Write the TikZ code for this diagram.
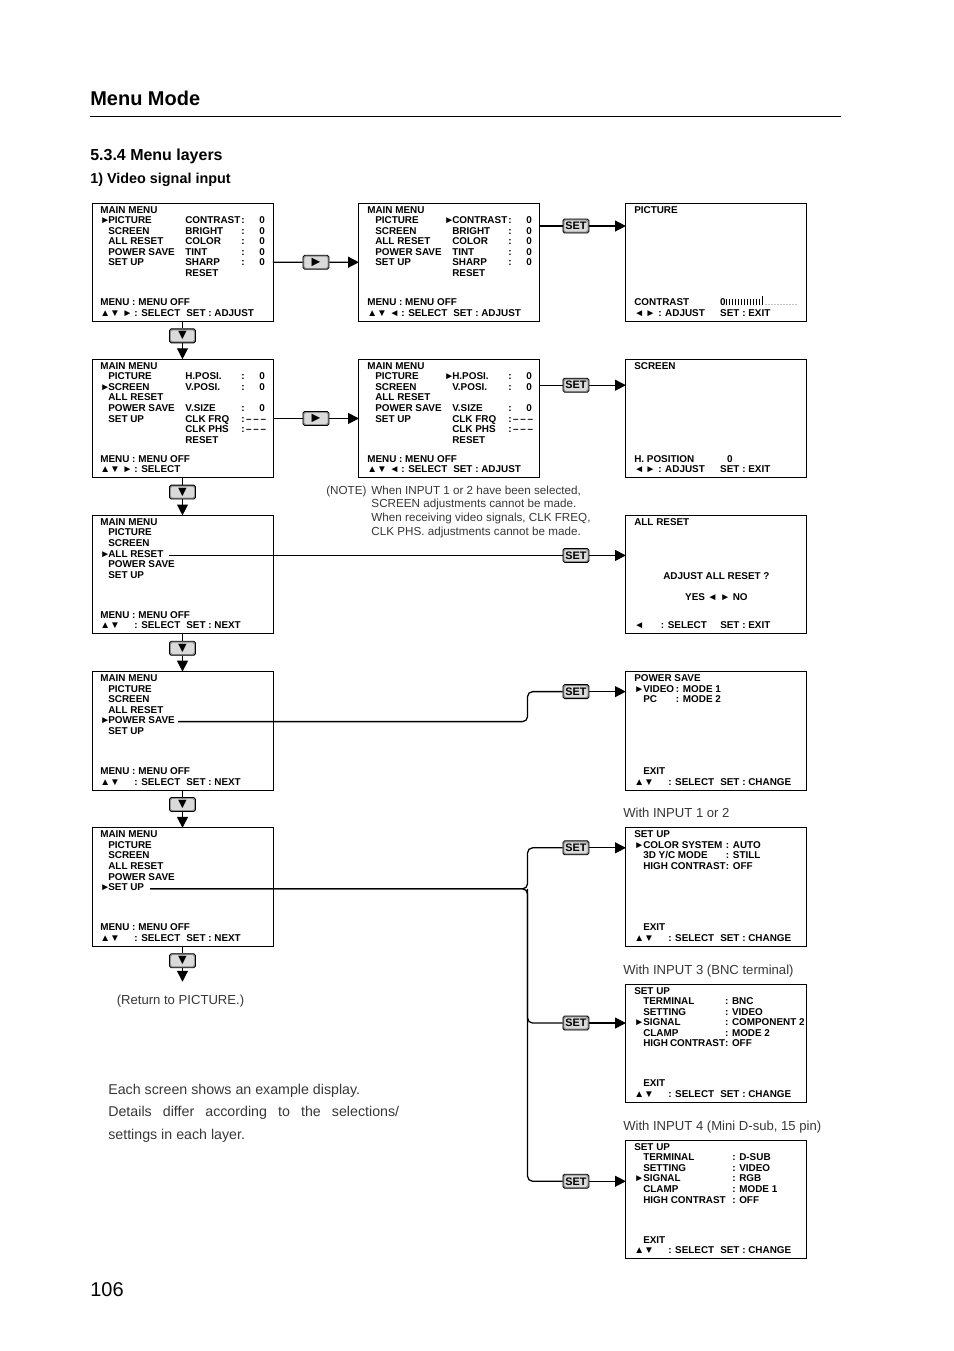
\documentclass[tikz,border=0pt]{standalone}
\usepackage{fontspec}
\setmainfont{Liberation Sans}
\usetikzlibrary{arrows.meta,positioning,calc}
\definecolor{keyrim}{RGB}{140,140,140}
\definecolor{keyface}{RGB}{218,218,218}
\definecolor{prose}{RGB}{55,55,55}

\newcommand\boxfont{\fontsize{6.2}{6.62}\selectfont\bfseries}
\newcommand\triR{►}
\newcommand\triL{◄}
\newcommand\triU{▲}
\newcommand\triD{▼}
\newcommand\spill[1]{\leavevmode\rlap{#1}}
% main menu rows: arrow, item, arrow, sub item, colon, value
\newcommand\mainrows[1]{\begin{tabular}[t]{@{}p{0.176cm}@{}p{1.518cm}@{}p{0.176cm}@{}p{1.232cm}@{}p{0.396cm}@{}l@{}}#1\end{tabular}}
% sub screen rows: arrow, label, value
\newcommand\subrows[2]{\begin{tabular}[t]{@{}p{0.198cm}@{}p{#1}@{}l@{}}#2\end{tabular}}
% key guide at the foot of a screen
\newcommand\keyrows[1]{\begin{tabular}[b]{@{}p{0.748cm}@{}p{1.144cm}@{}l@{}}#1\end{tabular}}

\begin{document}
\begin{tikzpicture}[x=0.022cm, y=-0.022cm,
  node distance=0.83cm and 1.892cm,
  scrbox/.style={draw, line width=0.6pt, minimum width=3.982cm,
    minimum height=2.607cm, inner sep=0, outer sep=0, anchor=north west},
  scrtext/.style={anchor=base west, inner sep=0, font=\boxfont},
  btnkey/.style={draw, line width=0.5pt, fill=keyrim, rounded corners=1pt,
    minimum width=0.572cm, minimum height=0.308cm, inner sep=0,
    font=\fontsize{6.8}{7}\selectfont\bfseries,
    path picture={\fill[keyface] ([shift={(0.9pt,0.9pt)}]path picture bounding box.south west)
      rectangle ([shift={(-0.9pt,-0.9pt)}]path picture bounding box.north east);}},
  arr/.style={-{Triangle[length=0.24cm, width=0.24cm]}, line width=0.8pt},
  link/.style={line width=0.8pt, rounded corners=0.11cm},
  prose/.style={anchor=base west, inner sep=0, text=prose, font=\fontsize{8.2}{10}\selectfont}
]
  \useasboundingbox (0,0) rectangle (954,1351);

  % Page heading
  \node[anchor=base west, inner sep=0, font=\fontsize{12.5}{14}\selectfont\bfseries] (title) at (90,105) {Menu Mode};
  \draw[line width=0.5pt] (90,116) -- (841,116);
  \node[anchor=base west, inner sep=0, font=\fontsize{10}{12}\selectfont\bfseries] (sect) at (90,160) {5.3.4 Menu layers};
  \node[anchor=base west, inner sep=0, font=\fontsize{9}{11}\selectfont\bfseries] (sub) at (90,183) {1) Video signal input};
  \node[anchor=base west, inner sep=0, font=\fontsize{12.5}{14}\selectfont] (page) at (90,1296) {106};

  % Screens
  \node[scrbox] (mm1) at (92,203) {};
  \node[scrbox, right=of mm1] (pic1) {};
  \node[scrbox, right=of pic1] (picadj) {};
  \node[scrbox, below=of mm1] (mm2) {};
  \node[scrbox, right=of mm2] (scr2) {};
  \node[scrbox, right=of scr2] (scradj) {};
  \node[scrbox, below=of mm2] (mm3) {};
  \node[scrbox, below=of scradj] (allrst) {};
  \node[scrbox, below=of mm3] (mm4) {};
  \node[scrbox, below=of allrst] (pwrsave) {};
  \node[scrbox, below=of mm4] (mm5) {};
  \node[scrbox, below=of pwrsave] (setup12) {};
  \node[scrbox, below=of setup12] (setup3) {};
  \node[scrbox, below=of setup3] (setup4) {};

  % Layer 1: picture
  \node[scrtext] (mm1-menu) at ($(mm1.north west)+(8,10)$) {\mainrows{\multicolumn{6}{@{}l@{}}{MAIN MENU}\\
    \triR & PICTURE & & CONTRAST & : & 0\\
    & SCREEN & & BRIGHT & : & 0\\
    & ALL RESET & & COLOR & : & 0\\
    & POWER SAVE & & TINT & : & 0\\
    & SET UP & & SHARP & : & 0\\
    & & & RESET & & }};
  \node[scrtext] (mm1-keys) at ($(mm1.south west)+(8,-5)$) {\keyrows{\multicolumn{3}{@{}l@{}}{MENU : MENU OFF}\\
    \triU\triD\ \triR & : SELECT & SET : ADJUST}};
  \node[scrtext] (pic1-menu) at ($(pic1.north west)+(8,10)$) {\mainrows{\multicolumn{6}{@{}l@{}}{MAIN MENU}\\
    & PICTURE & \triR & CONTRAST & : & 0\\
    & SCREEN & & BRIGHT & : & 0\\
    & ALL RESET & & COLOR & : & 0\\
    & POWER SAVE & & TINT & : & 0\\
    & SET UP & & SHARP & : & 0\\
    & & & RESET & & }};
  \node[scrtext] (pic1-keys) at ($(pic1.south west)+(8,-5)$) {\keyrows{\multicolumn{3}{@{}l@{}}{MENU : MENU OFF}\\
    \triU\triD\ \triL & : SELECT & SET : ADJUST}};
  \node[scrtext] (picadj-head) at ($(picadj.north west)+(8,10)$) {PICTURE};
  \node[scrtext] (picadj-keys) at ($(picadj.south west)+(8,-5)$) {\keyrows{\spill{CONTRAST} & & 0\\
    \spill{\triL\,\triR\ : ADJUST} & & SET : EXIT}};
  \foreach \i in {0,...,11}
    \draw[line width=0.35pt] ($(picadj.south west)+(100+3*\i,-16)$) -- ++(0,-6);
  \draw[line width=0.5pt] ($(picadj.south west)+(136,-16)$) -- ++(0,-9);
  \foreach \i in {0,...,10}
    \fill ($(picadj.south west)+(140+3*\i,-17)$) circle (0.25pt);

  % Layer 2: screen
  \node[scrtext] (mm2-menu) at ($(mm2.north west)+(8,10)$) {\mainrows{\multicolumn{6}{@{}l@{}}{MAIN MENU}\\
    & PICTURE & & H.POSI. & : & 0\\
    \triR & SCREEN & & V.POSI. & : & 0\\
    & ALL RESET & & & & \\
    & POWER SAVE & & V.SIZE & : & 0\\
    & SET UP & & CLK FRQ & \multicolumn{2}{@{}l@{}}{:\,--\,--\,--}\\
    & & & CLK PHS & \multicolumn{2}{@{}l@{}}{:\,--\,--\,--}\\
    & & & RESET & & }};
  \node[scrtext] (mm2-keys) at ($(mm2.south west)+(8,-5)$) {\keyrows{\multicolumn{3}{@{}l@{}}{MENU : MENU OFF}\\
    \triU\triD\ \triR & : SELECT & }};
  \node[scrtext] (scr2-menu) at ($(scr2.north west)+(8,10)$) {\mainrows{\multicolumn{6}{@{}l@{}}{MAIN MENU}\\
    & PICTURE & \triR & H.POSI. & : & 0\\
    & SCREEN & & V.POSI. & : & 0\\
    & ALL RESET & & & & \\
    & POWER SAVE & & V.SIZE & : & 0\\
    & SET UP & & CLK FRQ & \multicolumn{2}{@{}l@{}}{:\,--\,--\,--}\\
    & & & CLK PHS & \multicolumn{2}{@{}l@{}}{:\,--\,--\,--}\\
    & & & RESET & & }};
  \node[scrtext] (scr2-keys) at ($(scr2.south west)+(8,-5)$) {\keyrows{\multicolumn{3}{@{}l@{}}{MENU : MENU OFF}\\
    \triU\triD\ \triL & : SELECT & SET : ADJUST}};
  \node[scrtext] (scradj-head) at ($(scradj.north west)+(8,10)$) {SCREEN};
  \node[scrtext] (scradj-keys) at ($(scradj.south west)+(8,-5)$) {\keyrows{\spill{H. POSITION} & & \hspace{0.15cm}0\\
    \spill{\triL\,\triR\ : ADJUST} & & SET : EXIT}};

  % Layer 3: all reset
  \node[scrtext] (mm3-menu) at ($(mm3.north west)+(8,10)$) {\mainrows{\multicolumn{6}{@{}l@{}}{MAIN MENU}\\
    & PICTURE\\ & SCREEN\\ \triR & ALL RESET\\ & POWER SAVE\\ & SET UP}};
  \node[scrtext] (mm3-keys) at ($(mm3.south west)+(8,-5)$) {\keyrows{\multicolumn{3}{@{}l@{}}{MENU : MENU OFF}\\
    \triU\triD & : SELECT & SET : NEXT}};
  \node[scrtext] (allrst-head) at ($(allrst.north west)+(8,10)$) {ALL RESET};
  \node[anchor=base, inner sep=0, font=\boxfont] (allrst-ask) at ($(allrst.north)+(0,64)$) {ADJUST ALL RESET ?};
  \node[anchor=base, inner sep=0, font=\boxfont] (allrst-yes) at ($(allrst.north)+(0,85)$) {YES \triL\ \triR\ NO};
  \node[scrtext] (allrst-keys) at ($(allrst.south west)+(8,-5)$) {\keyrows{\spill{\triL\hspace{0.37cm}: SELECT} & & SET : EXIT}};

  % Layer 4: power save
  \node[scrtext] (mm4-menu) at ($(mm4.north west)+(8,10)$) {\mainrows{\multicolumn{6}{@{}l@{}}{MAIN MENU}\\
    & PICTURE\\ & SCREEN\\ & ALL RESET\\ \triR & POWER SAVE\\ & SET UP}};
  \node[scrtext] (mm4-keys) at ($(mm4.south west)+(8,-5)$) {\keyrows{\multicolumn{3}{@{}l@{}}{MENU : MENU OFF}\\
    \triU\triD & : SELECT & SET : NEXT}};
  \node[scrtext] (pwrsave-menu) at ($(pwrsave.north west)+(8,10)$) {\subrows{0.72cm}{\multicolumn{3}{@{}l@{}}{POWER SAVE}\\
    \triR & VIDEO & : MODE 1\\ & PC & : MODE 2}};
  \node[scrtext] (pwrsave-keys) at ($(pwrsave.south west)+(8,-5)$) {\keyrows{\multicolumn{3}{@{}l@{}}{\hspace{0.198cm}EXIT}\\
    \triU\triD & : SELECT & SET : CHANGE}};

  % Layer 5: set up
  \node[scrtext] (mm5-menu) at ($(mm5.north west)+(8,10)$) {\mainrows{\multicolumn{6}{@{}l@{}}{MAIN MENU}\\
    & PICTURE\\ & SCREEN\\ & ALL RESET\\ & POWER SAVE\\ \triR & SET UP}};
  \node[scrtext] (mm5-keys) at ($(mm5.south west)+(8,-5)$) {\keyrows{\multicolumn{3}{@{}l@{}}{MENU : MENU OFF}\\
    \triU\triD & : SELECT & SET : NEXT}};
  \node[scrtext] (setup12-menu) at ($(setup12.north west)+(8,10)$) {\subrows{1.82cm}{\multicolumn{3}{@{}l@{}}{SET UP}\\
    \triR & COLOR SYSTEM & : AUTO\\ & 3D Y/C MODE & : STILL\\ & HIGH CONTRAST & : OFF}};
  \node[scrtext] (setup12-keys) at ($(setup12.south west)+(8,-5)$) {\keyrows{\multicolumn{3}{@{}l@{}}{\hspace{0.198cm}EXIT}\\
    \triU\triD & : SELECT & SET : CHANGE}};
  \node[scrtext] (setup3-menu) at ($(setup3.north west)+(8,10)$) {\subrows{1.8cm}{\multicolumn{3}{@{}l@{}}{SET UP}\\
    & TERMINAL & : BNC\\ & SETTING & : VIDEO\\ \triR & SIGNAL & : COMPONENT 2\\ & CLAMP & : MODE 2\\ & HIGH CONTRAST & : OFF}};
  \node[scrtext] (setup3-keys) at ($(setup3.south west)+(8,-5)$) {\keyrows{\multicolumn{3}{@{}l@{}}{\hspace{0.198cm}EXIT}\\
    \triU\triD & : SELECT & SET : CHANGE}};
  \node[scrtext] (setup4-menu) at ($(setup4.north west)+(8,10)$) {\subrows{1.96cm}{\multicolumn{3}{@{}l@{}}{SET UP}\\
    & TERMINAL & : D-SUB\\ & SETTING & : VIDEO\\ \triR & SIGNAL & : RGB\\ & CLAMP & : MODE 1\\ & HIGH CONTRAST & : OFF}};
  \node[scrtext] (setup4-keys) at ($(setup4.south west)+(8,-5)$) {\keyrows{\multicolumn{3}{@{}l@{}}{\hspace{0.198cm}EXIT}\\
    \triU\triD & : SELECT & SET : CHANGE}};

  % Notes
  \node[anchor=base west, inner sep=0, text=prose, font=\fontsize{7.3}{8.73}\selectfont] (note) at (326,494)
    {\begin{tabular}[t]{@{}l@{\hspace{0.11cm}}l@{}}(NOTE) & When INPUT 1 or 2 have been selected,\\
     & SCREEN adjustments cannot be made.\\ & When receiving video signals, CLK FREQ,\\
     & CLK PHS. adjustments cannot be made.\end{tabular}};
  \node[prose] (in12) at ($(setup12.north west)+(-3,-10)$) {With INPUT 1 or 2};
  \node[prose] (in3) at ($(setup3.north west)+(-3,-10)$) {With INPUT 3 (BNC terminal)};
  \node[prose] (in4) at ($(setup4.north west)+(-3,-10)$) {With INPUT 4 (Mini D-sub, 15 pin)};
  \node[anchor=base west, inner sep=0, text=prose, font=\fontsize{8.9}{14.3}\selectfont] (remark) at (108,1094)
    {\begin{tabular}[t]{@{}l@{}}Each screen shows an example display.\\
     \makebox[6.4cm][s]{Details differ according to the selections/}\\ settings in each layer.\end{tabular}};

  % Down keys between main menu layers
  \foreach \up/\dn/\k in {mm1/mm2/1, mm2/mm3/2, mm3/mm4/3, mm4/mm5/4} {
    \node[btnkey, below=0.154cm of \up] (down\k) {\fontsize{9}{9}\selectfont\triD};
    \draw[link] (\up) -- (down\k);
    \draw[arr] (down\k) -- (\dn);
  }
  \node[btnkey, below=0.154cm of mm5] (down5) {\fontsize{9}{9}\selectfont\triD};
  \coordinate[below=0.3cm of down5] (back);
  \draw[link] (mm5) -- (down5);
  \draw[arr] (down5) -- (back);
  \node[prose, anchor=base] (backnote) at ($(back)+(-2,23)$) {(Return to PICTURE.)};

  % Right keys into sub menus
  \node[btnkey] (right1) at ($(mm1.east)!0.5!(pic1.west)$) {\fontsize{9}{9}\selectfont\triR};
  \draw[link] (mm1) -- (right1);
  \draw[arr] (right1) -- (pic1);
  \node[btnkey] (right2) at ($(mm2.east)!0.5!(scr2.west)$) {\fontsize{9}{9}\selectfont\triR};
  \draw[link] (mm2) -- (right2);
  \draw[arr] (right2) -- (scr2);

  % SET keys
  \node[btnkey] (set1) at ($(pic1.north east)+(36,23)$) {SET};
  \draw[link] (set1 -| pic1.east) -- (set1);
  \draw[arr] (set1) -- (set1 -| picadj.west);
  \node[btnkey] (set2) at ($(scr2.north east)+(36,26)$) {SET};
  \draw[link] (set2 -| scr2.east) -- (set2);
  \draw[arr] (set2) -- (set2 -| scradj.west);

  \coordinate (rst-end) at ($(mm3.north west)+(77,40)$);
  \node[btnkey] (set3) at ($(allrst.north west)+(-50,40)$) {SET};
  \draw[link] (rst-end) -- (set3);
  \draw[arr] (set3) -- (set3 -| allrst.west);

  \coordinate (ps-end) at ($(mm4.north west)+(86,50)$);
  \node[btnkey] (set4) at ($(pwrsave.north west)+(-50,20)$) {SET};
  \coordinate (bend) at ($(set4.west)+(-35,0)$);
  \draw[link] (ps-end) -| (bend) -- (set4);
  \draw[arr] (set4) -- (set4 -| pwrsave.west);

  \coordinate (su-end) at ($(mm5.north west)+(58,61)$);
  \coordinate (split) at (bend |- su-end);
  \node[btnkey] (set5a) at ($(setup12.north west)+(-50,20)$) {SET};
  \node[btnkey] (set5b) at ($(setup3.north west)+(-50,39)$) {SET};
  \node[btnkey] (set5c) at ($(setup4.north west)+(-50,41)$) {SET};
  \draw[link] (su-end) -- (split) |- (set5a);
  \draw[link] (su-end) -- (split) |- (set5c);
  \draw[link] (split) |- (set5b);
  \draw[arr] (set5a) -- (set5a -| setup12.west);
  \draw[arr] (set5b) -- (set5b -| setup3.west);
  \draw[arr] (set5c) -- (set5c -| setup4.west);
\end{tikzpicture}
\end{document}
